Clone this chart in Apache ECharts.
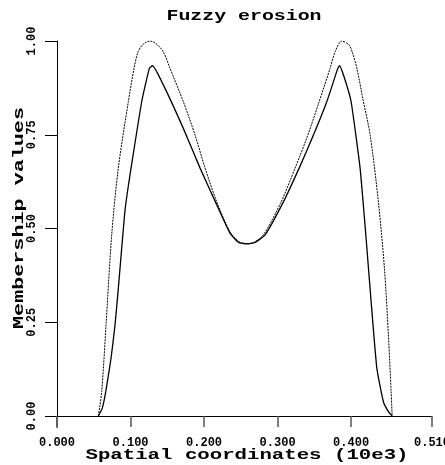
<!DOCTYPE html>
<html>
<head>
<meta charset="utf-8">
<script src="https://cdn.jsdelivr.net/npm/echarts@6/dist/echarts.min.js"></script>
<style>
html,body{margin:0;padding:0;background:#fff;}
#chart{width:445px;height:465px;}
</style>
</head>
<body>
<div id="chart"></div>
<script>
// Outer (dashed) curve: original membership function
var originalX = [0.0562,0.0608,0.0667,0.0744,0.0834,0.0970,0.1048,0.1102,0.1170,0.1265,0.1347,0.1446,0.1537,0.1718,0.1878,0.2014,0.2173,0.2354,0.2490,0.2585,0.2680,0.2807,0.3048,0.3238,0.3411,0.3565,0.3714,0.3782,0.3873,0.3973,0.4014,0.4078,0.4163,0.4259,0.4371,0.4453,0.4507,0.4544,0.4558];
var originalY = [0,0.065,0.243,0.483,0.661,0.838,0.927,0.971,0.991,1.0,0.993,0.971,0.927,0.838,0.749,0.661,0.571,0.491,0.463,0.460,0.463,0.483,0.571,0.661,0.749,0.838,0.927,0.971,1.0,0.989,0.971,0.927,0.843,0.749,0.571,0.394,0.216,0.065,0];
// Inner (solid) curve: eroded membership function
var erodedX = [0.0562,0.0616,0.0663,0.0735,0.0789,0.0830,0.0878,0.0925,0.0966,0.1007,0.1152,0.1256,0.1299,0.1446,0.1718,0.1946,0.2173,0.2354,0.2467,0.2585,0.2694,0.2830,0.3079,0.3293,0.3487,0.3669,0.3819,0.3844,0.3918,0.4000,0.4122,0.4200,0.4272,0.4350,0.4439,0.4503,0.4558];
var erodedY = [0,0.021,0.065,0.154,0.243,0.331,0.443,0.549,0.608,0.661,0.838,0.927,0.934,0.883,0.767,0.661,0.563,0.487,0.463,0.459,0.463,0.483,0.571,0.661,0.749,0.838,0.927,0.934,0.896,0.838,0.661,0.483,0.305,0.127,0.038,0.013,0];
var xTicks = [0, 0.1, 0.2, 0.3, 0.4, 0.51];
var yTicks = [0, 0.25, 0.5, 0.75, 1.0];
var titleText = 'Fuzzy erosion';
var xName = 'Spatial coordinates (10e3)';
var yName = 'Membership values';

function zip(xs, ys){ return xs.map(function(x,i){ return [x, ys[i]]; }); }

var chart = echarts.init(document.getElementById('chart'), null, {renderer:'canvas'});
var monoFont = '"Liberation Mono", "DejaVu Sans Mono", monospace';
chart.setOption({
  animation: false,
  backgroundColor: '#fff',
  grid: {left: 57, right: 13, top: 41, bottom: 49, containLabel: false, outerBoundsMode: 'none'},
  xAxis: {
    type: 'value', min: 0, max: 0.51,
    axisLine: {show: true, lineStyle: {color: '#000', width: 1}},
    axisTick: {show: true, inside: false, length: 11, customValues: xTicks, lineStyle: {color: '#555', width: 1.5}},
    axisLabel: {customValues: xTicks, margin: 21, fontFamily: monoFont, fontWeight: 'bold', fontSize: 12, color: '#000',
      hideOverlap: false, formatter: function(v){ return v.toFixed(3); }},
    splitLine: {show: false}
  },
  yAxis: {
    type: 'value', min: 0, max: 1,
    axisLine: {show: true, lineStyle: {color: '#000', width: 1}},
    axisTick: {show: true, inside: false, length: 12, customValues: yTicks, lineStyle: {color: '#000', width: 1}},
    axisLabel: {customValues: yTicks, rotate: 90, margin: 19, fontFamily: monoFont, fontWeight: 'bold', fontSize: 12, color: '#000',
      formatter: function(v){ return v.toFixed(2); }},
    splitLine: {show: false}
  },
  graphic: [
    {type: 'text', x: 244, y: 16, scaleX: 1.42, style: {text: titleText, font: 'bold 14px ' + monoFont, fill: '#000', align: 'center', verticalAlign: 'middle'}},
    {type: 'text', x: 247, y: 455, scaleX: 1.38, style: {text: xName, font: 'bold 15px ' + monoFont, fill: '#000', align: 'center', verticalAlign: 'middle'}},
    {type: 'text', x: 19, y: 218, rotation: Math.PI/2, scaleX: 1.45, style: {text: yName, font: 'bold 15px ' + monoFont, fill: '#000', align: 'center', verticalAlign: 'middle'}},
    {type: 'line', shape: {x1: 57, y1: 416, x2: 57, y2: 428}, style: {stroke: '#000', lineWidth: 1}}
  ],
  series: [
    {type: 'line', data: zip(originalX, originalY), showSymbol: false, smooth: 0.3, lineStyle: {color: '#000', width: 1, type: [2, 1]}},
    {type: 'line', data: zip(erodedX, erodedY), showSymbol: false, smooth: 0.15, lineStyle: {color: '#000', width: 1.3}}
  ]
});
</script>
</body>
</html>
